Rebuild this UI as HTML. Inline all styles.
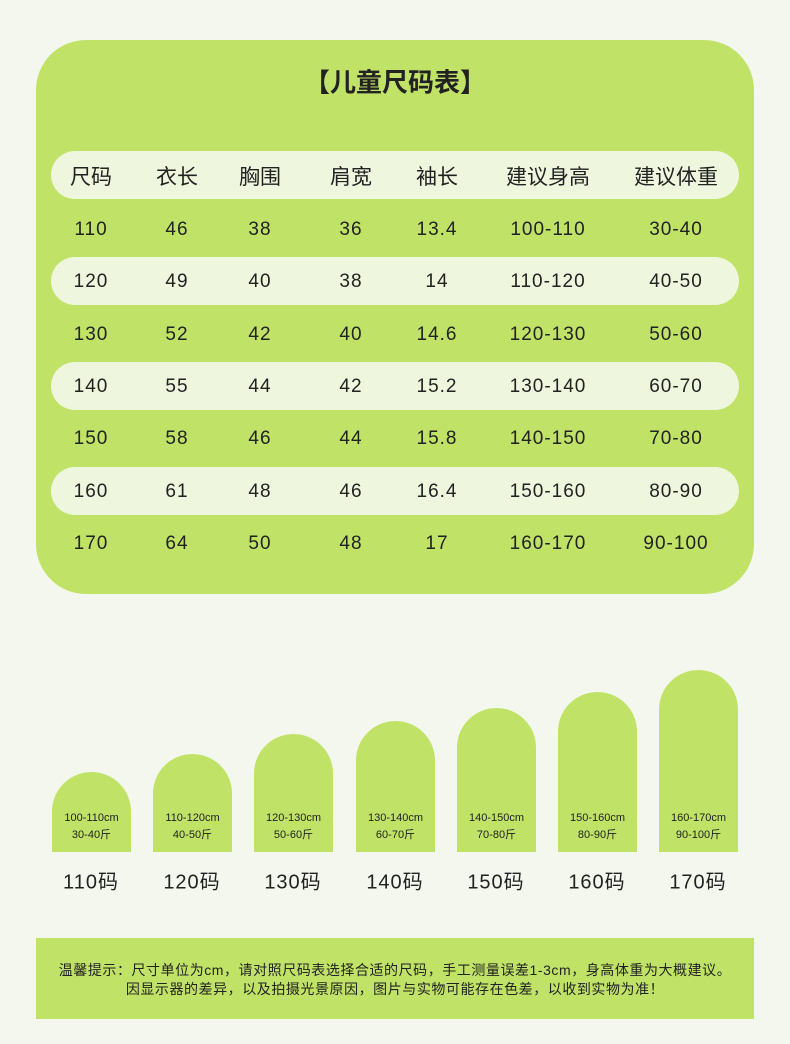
<!DOCTYPE html><html><head><meta charset="utf-8"><style>
body{margin:0;width:790px;height:1044px;background:#f4f7ee;position:relative;font-family:"Liberation Sans","Noto Sans CJK SC",sans-serif;color:#222;overflow:hidden}
.a{position:absolute}
.card{left:36px;top:40px;width:718px;height:554px;background:#c0e367;border-radius:50px}
.row{left:51px;width:688px;height:48px;border-radius:24px;background:#eef6dd}
.t{position:absolute;transform:translate(-50%,-50%);white-space:nowrap;font-size:20px}
.arch{position:absolute;width:79px;background:#c0e367;border-radius:40px 40px 0 0;bottom:192px}
.al{position:absolute;left:-5px;width:89px;text-align:center;font-size:11px;line-height:17px;bottom:8px}
</style></head><body>
<div class="a card"></div>
<div class="t" style="left:395px;top:81px;font-size:26px;font-weight:bold">【儿童尺码表】</div>
<div class="a row" style="top:151px"></div>
<div class="a row" style="top:257px"></div>
<div class="a row" style="top:362px"></div>
<div class="a row" style="top:467px"></div>
<div id="tb"></div>
<div class="arch" style="left:52px;top:772px"><div class="al">100-110cm<br>30-40斤</div></div>
<div class="arch" style="left:153px;top:754px"><div class="al">110-120cm<br>40-50斤</div></div>
<div class="arch" style="left:254px;top:734px"><div class="al">120-130cm<br>50-60斤</div></div>
<div class="arch" style="left:356px;top:721px"><div class="al">130-140cm<br>60-70斤</div></div>
<div class="arch" style="left:457px;top:708px"><div class="al">140-150cm<br>70-80斤</div></div>
<div class="arch" style="left:558px;top:692px"><div class="al">150-160cm<br>80-90斤</div></div>
<div class="arch" style="left:659px;top:670px"><div class="al">160-170cm<br>90-100斤</div></div>
<div class="t" style="left:91px;top:880px;letter-spacing:1px">110码</div>
<div class="t" style="left:192px;top:880px;letter-spacing:1px">120码</div>
<div class="t" style="left:293px;top:880px;letter-spacing:1px">130码</div>
<div class="t" style="left:395px;top:880px;letter-spacing:1px">140码</div>
<div class="t" style="left:496px;top:880px;letter-spacing:1px">150码</div>
<div class="t" style="left:597px;top:880px;letter-spacing:1px">160码</div>
<div class="t" style="left:698px;top:880px;letter-spacing:1px">170码</div>
<div class="a" style="left:36px;top:938px;width:718px;height:81px;background:#c0e367"></div>
<div class="t" style="left:395px;top:970px;font-size:14px;letter-spacing:0.55px">温馨提示：尺寸单位为cm，请对照尺码表选择合适的尺码，手工测量误差1-3cm，身高体重为大概建议。</div>
<div class="t" style="left:395px;top:989px;font-size:14px;letter-spacing:0.55px">因显示器的差异，以及拍摄光景原因，图片与实物可能存在色差，以收到实物为准！</div>
<script>
var cx=[91,177,260,351,437,548,676];
var rows=[["尺码","衣长","胸围","肩宽","袖长","建议身高","建议体重"],
["110","46","38","36","13.4","100-110","30-40"],
["120","49","40","38","14","110-120","40-50"],
["130","52","42","40","14.6","120-130","50-60"],
["140","55","44","42","15.2","130-140","60-70"],
["150","58","46","44","15.8","140-150","70-80"],
["160","61","48","46","16.4","150-160","80-90"],
["170","64","50","48","17","160-170","90-100"]];
var ys=[176,230,282,335,387,439,492,544],h="";
rows.forEach(function(r,i){r.forEach(function(v,j){h+='<div class="t" style="left:'+cx[j]+'px;top:'+ys[i]+'px;font-size:'+(i?19:21)+'px;letter-spacing:'+(i?1:0)+'px">'+v+'</div>';});});
document.getElementById("tb").innerHTML=h;
</script>
</body></html>
